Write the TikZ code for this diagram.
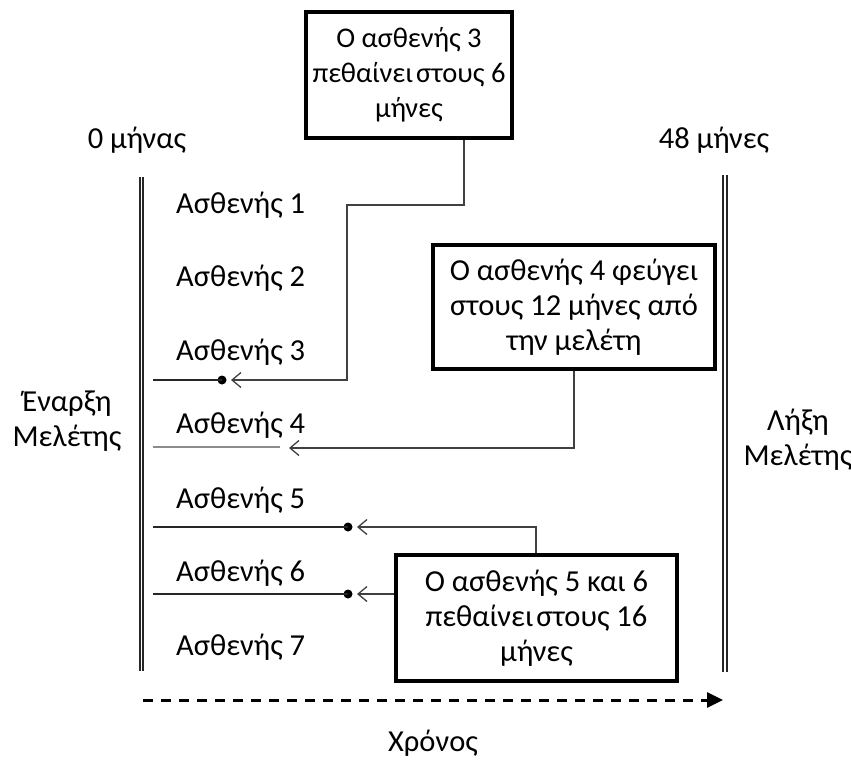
\documentclass[tikz,border=0pt]{standalone}
\usepackage{fontspec}
\setmainfont{Carlito}
\usetikzlibrary{arrows.meta,calc}
\begin{document}
\begin{tikzpicture}[x=1pt,y=-1pt,
  every node/.style={font=\fontsize{30.5}{35}\selectfont, inner sep=0pt},
  infobox/.style={draw=black, line width=3.8pt, align=center, fill=white},
  lbl/.style={anchor=west},
  rule/.style={draw=black!85, double=white, line width=1.7pt, double distance=1.8pt},
  conn/.style={draw=black!75, line width=1.3pt, -{Straight Barb[length=9pt,width=15pt,line width=1.3pt]}},
  tl/.style={draw=black!85, line width=1.3pt},
  dotc/.style={circle, fill=black, minimum size=9pt, inner sep=0pt}]
\useasboundingbox (0,0) rectangle (851,760);

% rules
\draw[rule] (141.5,177) -- (141.5,671);
\draw[rule] (725,175) -- (725,672);

% headings
\node (m0) at (137,140) {0 μήνας};
\node (m48) at (714,140) {48 μήνες};
\node[align=center] (start) at (67,421) {Έναρξη\\Μελέτης};
\node[align=center] (end) at (798,440) {Λήξη\\Μελέτης};

% patients
\node[lbl] (p1) at (176,205) {Ασθενής 1};
\node[lbl] (p2) at (176,278) {Ασθενής 2};
\node[lbl] (p3) at (176,352) {Ασθενής 3};
\node[lbl] (p4) at (176,425) {Ασθενής 4};
\node[lbl] (p5) at (176,500) {Ασθενής 5};
\node[lbl] (p6) at (176,573) {Ασθενής 6};
\node[lbl] (p7) at (176,647) {Ασθενής 7};

% boxes
\node[infobox, minimum width=206pt, minimum height=126pt,
  font=\fontsize{28.5}{35}\selectfont] (b3) at (409,75)
  {Ο ασθενής 3\\πεθαίνει\hspace{3pt}στους 6\\μήνες};
\node[infobox, minimum width=282pt, minimum height=124pt] (b4) at (574,307)
  {Ο ασθενής 4 φεύγει\\στους 12 μήνες από\\την μελέτη};
\node[infobox, minimum width=281pt, minimum height=126pt] (b56) at (536.5,618)
  {Ο ασθενής 5 και 6\\πεθαίνει\hspace{3pt}στους 16\\μήνες};

% timeline starts / ends
\coordinate (s3) at (153,380);
\coordinate (s4) at (153,447);
\coordinate (s5) at (153,527);
\coordinate (s6) at (153,594);
\node[dotc] (d3) at (222,380) {};
\node[dotc] (d5) at (348,527) {};
\node[dotc] (d6) at (348,594) {};
\coordinate (e4) at (280,447);
\coordinate (t3) at (231,380);
\coordinate (t4) at (289,448);
\coordinate (t5) at (357,527);
\coordinate (t6) at (357,594);

\draw[tl] (s3) -- (d3.center);
\draw[draw=black!45, line width=1.1pt] (s4) -- (e4);
\draw[tl] (s5) -- (d5.center);
\draw[tl] (s6) -- (d6.center);

% connectors
\draw[conn] (b3.south -| 464,0) -- (464,205) -- (347,205) -- (347,380) -- (t3);
\draw[conn] (b4.south) -- (b4.south |- t4) -- (t4);
\draw[conn] (b56.north -| 536,0) -- (536,527) -- (t5);
\draw[conn] (b56.west |- t6) -- (t6);

% time axis
\coordinate (ax0) at (143,700);
\coordinate (ax1) at (723,700);
\draw[line width=3pt, dash pattern=on 10pt off 8pt, -{Triangle[length=16pt,width=15pt]}] (ax0) -- (ax1);
\node (time) at (433,743) {Χρόνος};
\end{tikzpicture}
\end{document}
